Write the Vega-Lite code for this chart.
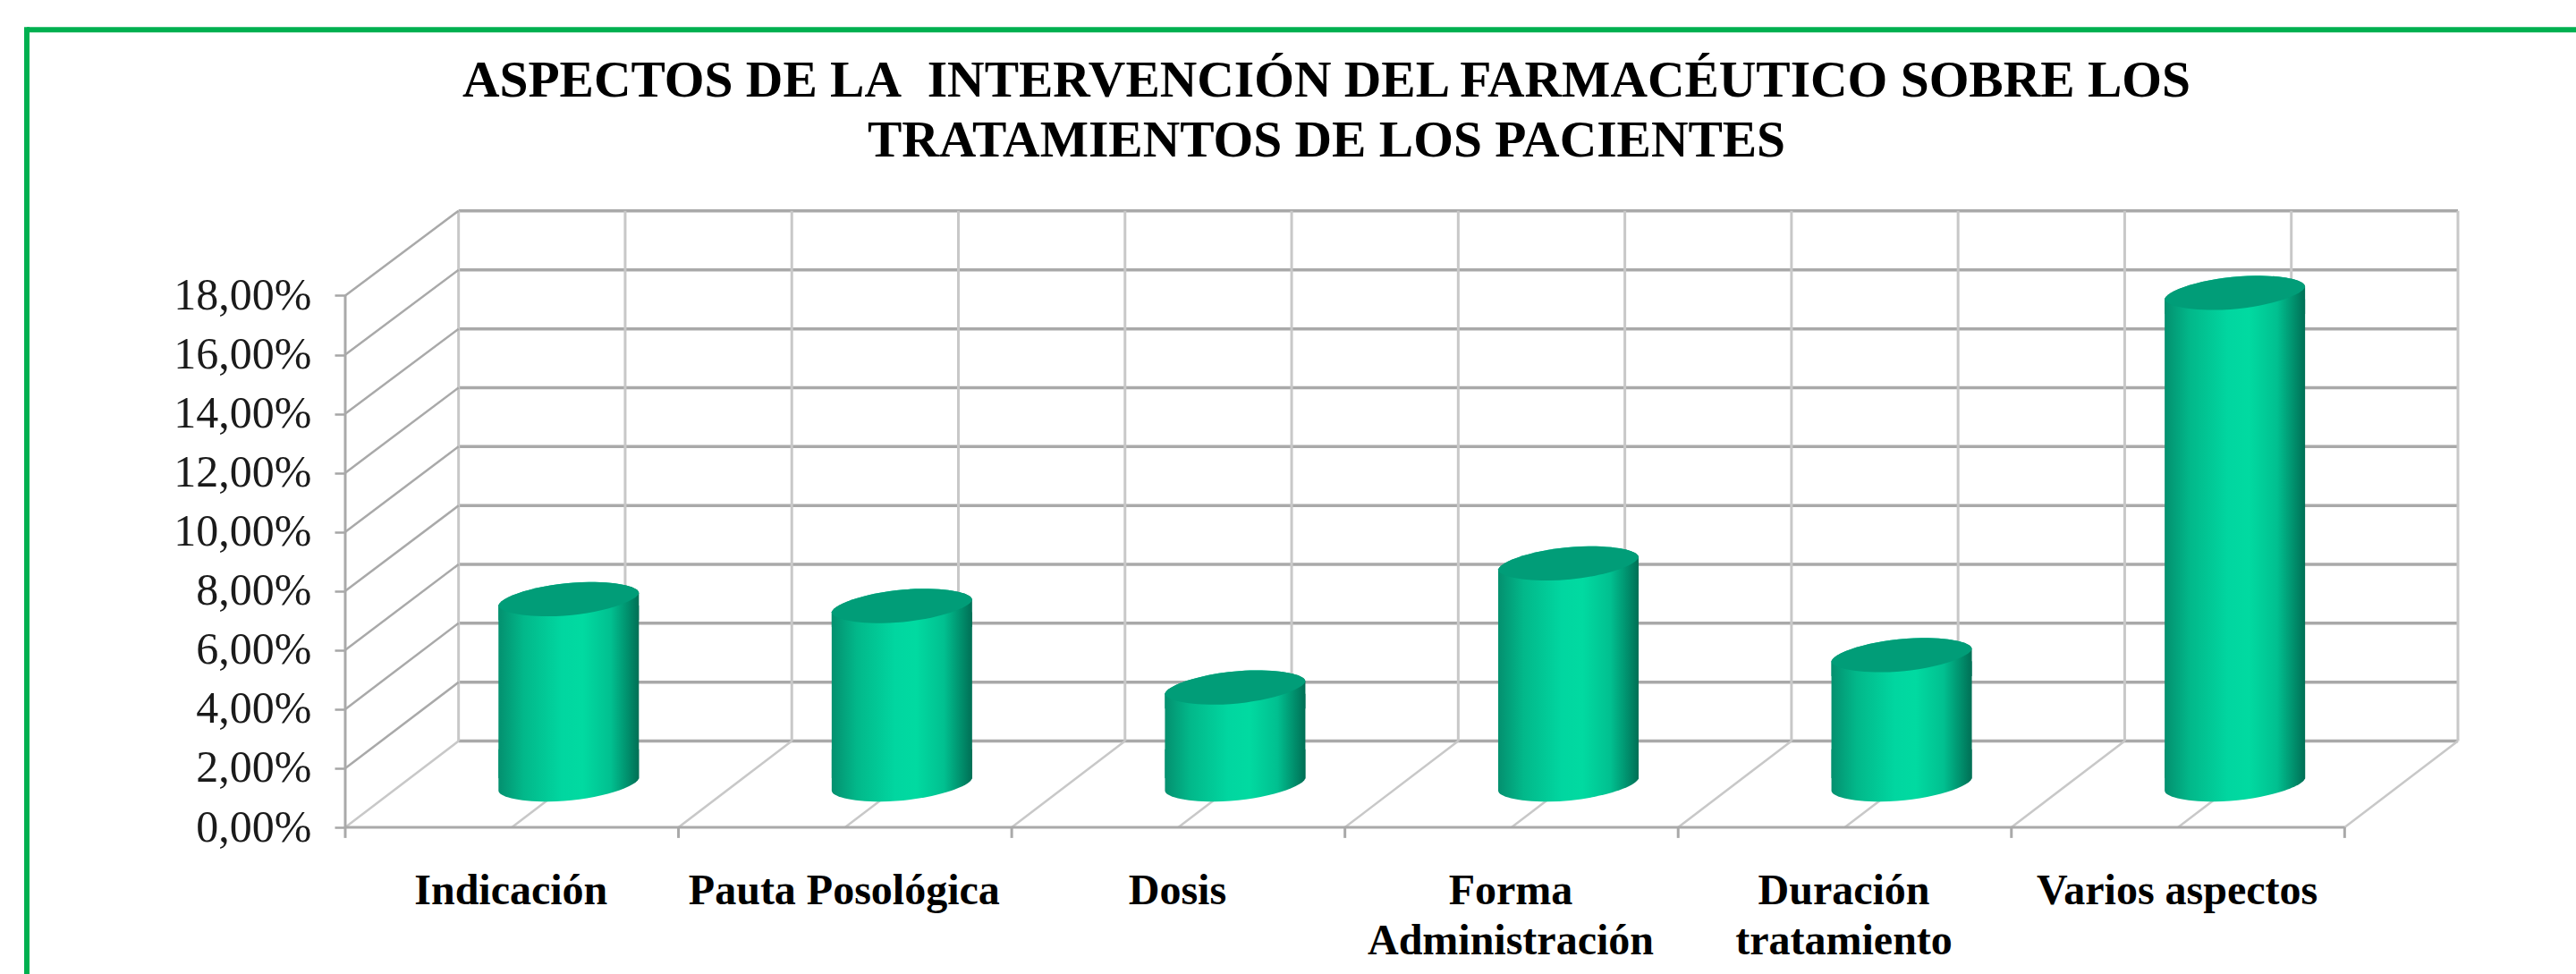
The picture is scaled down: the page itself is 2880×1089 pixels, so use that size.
{
"$schema":"https://vega.github.io/schema/vega-lite/v6.json",
"width":2362,"height":690,
"autosize":{"type":"none"},
"padding":{"left":386,"top":235,"right":132,"bottom":164},
"background":"white",
"view":{"stroke":null},
"title":{"text":["ASPECTOS DE LA\u00a0 INTERVENCIÓN DEL FARMACÉUTICO SOBRE LOS","TRATAMIENTOS DE LOS PACIENTES"],"font":"Liberation Serif","fontWeight":"bold","fontSize":57.5,"lineHeight":67,"color":"#000000","anchor":"middle","frame":"group","dx":-84,"offset":-160},
"datasets":{
"lineas":[
{"tipo":"horizontal","x0":0.34,"x1":6.34,"y0":2.92,"y1":2.92},
{"tipo":"horizontal","x0":0.34,"x1":6.34,"y0":4.91,"y1":4.91},
{"tipo":"horizontal","x0":0.34,"x1":6.34,"y0":6.91,"y1":6.91},
{"tipo":"horizontal","x0":0.34,"x1":6.34,"y0":8.9,"y1":8.9},
{"tipo":"horizontal","x0":0.34,"x1":6.34,"y0":10.89,"y1":10.89},
{"tipo":"horizontal","x0":0.34,"x1":6.34,"y0":12.89,"y1":12.89},
{"tipo":"horizontal","x0":0.34,"x1":6.34,"y0":14.88,"y1":14.88},
{"tipo":"horizontal","x0":0.34,"x1":6.34,"y0":16.87,"y1":16.87},
{"tipo":"horizontal","x0":0.34,"x1":6.34,"y0":18.87,"y1":18.87},
{"tipo":"horizontal","x0":0.34,"x1":6.34,"y0":20.87,"y1":20.87},
{"tipo":"vertical","x0":0.34,"x1":0.34,"y0":2.92,"y1":20.87},
{"tipo":"vertical","x0":0.84,"x1":0.84,"y0":2.92,"y1":20.87},
{"tipo":"vertical","x0":1.34,"x1":1.34,"y0":2.92,"y1":20.87},
{"tipo":"vertical","x0":1.84,"x1":1.84,"y0":2.92,"y1":20.87},
{"tipo":"vertical","x0":2.34,"x1":2.34,"y0":2.92,"y1":20.87},
{"tipo":"vertical","x0":2.84,"x1":2.84,"y0":2.92,"y1":20.87},
{"tipo":"vertical","x0":3.34,"x1":3.34,"y0":2.92,"y1":20.87},
{"tipo":"vertical","x0":3.84,"x1":3.84,"y0":2.92,"y1":20.87},
{"tipo":"vertical","x0":4.34,"x1":4.34,"y0":2.92,"y1":20.87},
{"tipo":"vertical","x0":4.84,"x1":4.84,"y0":2.92,"y1":20.87},
{"tipo":"vertical","x0":5.34,"x1":5.34,"y0":2.92,"y1":20.87},
{"tipo":"vertical","x0":5.84,"x1":5.84,"y0":2.92,"y1":20.87},
{"tipo":"vertical","x0":6.34,"x1":6.34,"y0":2.92,"y1":20.87},
{"tipo":"pared","x0":0,"x1":0.34,"y0":2,"y1":4.91},
{"tipo":"pared","x0":0,"x1":0.34,"y0":4,"y1":6.91},
{"tipo":"pared","x0":0,"x1":0.34,"y0":6,"y1":8.9},
{"tipo":"pared","x0":0,"x1":0.34,"y0":8,"y1":10.89},
{"tipo":"pared","x0":0,"x1":0.34,"y0":10,"y1":12.89},
{"tipo":"pared","x0":0,"x1":0.34,"y0":12,"y1":14.88},
{"tipo":"pared","x0":0,"x1":0.34,"y0":14,"y1":16.87},
{"tipo":"pared","x0":0,"x1":0.34,"y0":16,"y1":18.87},
{"tipo":"pared","x0":0,"x1":0.34,"y0":18,"y1":20.87},
{"tipo":"piso","x0":0,"x1":0.34,"y0":0,"y1":2.92},
{"tipo":"piso","x0":0.5,"x1":0.84,"y0":0,"y1":2.92},
{"tipo":"piso","x0":1,"x1":1.34,"y0":0,"y1":2.92},
{"tipo":"piso","x0":1.5,"x1":1.84,"y0":0,"y1":2.92},
{"tipo":"piso","x0":2,"x1":2.34,"y0":0,"y1":2.92},
{"tipo":"piso","x0":2.5,"x1":2.84,"y0":0,"y1":2.92},
{"tipo":"piso","x0":3,"x1":3.34,"y0":0,"y1":2.92},
{"tipo":"piso","x0":3.5,"x1":3.84,"y0":0,"y1":2.92},
{"tipo":"piso","x0":4,"x1":4.34,"y0":0,"y1":2.92},
{"tipo":"piso","x0":4.5,"x1":4.84,"y0":0,"y1":2.92},
{"tipo":"piso","x0":5,"x1":5.34,"y0":0,"y1":2.92},
{"tipo":"piso","x0":5.5,"x1":5.84,"y0":0,"y1":2.92},
{"tipo":"piso","x0":6,"x1":6.34,"y0":0,"y1":2.92},
{"tipo":"eje","x0":0,"x1":6,"y0":0,"y1":0},
{"tipo":"eje","x0":0,"x1":0,"y0":0,"y1":18},
{"tipo":"eje","x0":0,"x1":0,"y0":0,"y1":-0.36},
{"tipo":"eje","x0":1,"x1":1,"y0":0,"y1":-0.36},
{"tipo":"eje","x0":2,"x1":2,"y0":0,"y1":-0.36},
{"tipo":"eje","x0":3,"x1":3,"y0":0,"y1":-0.36},
{"tipo":"eje","x0":4,"x1":4,"y0":0,"y1":-0.36},
{"tipo":"eje","x0":5,"x1":5,"y0":0,"y1":-0.36},
{"tipo":"eje","x0":6,"x1":6,"y0":0,"y1":-0.36},
{"tipo":"marco","x0":-0.9556,"x1":6.7,"y0":27.0,"y1":27.0},
{"tipo":"marco","x0":-0.9556,"x1":-0.9556,"y0":27.09,"y1":-5.0}
],
"aspectos":[
{"categoria":"Indicación","valor":6.27},
{"categoria":"Pauta Posológica","valor":6.04},
{"categoria":"Dosis","valor":3.28},
{"categoria":"Forma Administración","valor":7.48},
{"categoria":"Duración tratamiento","valor":4.38},
{"categoria":"Varios aspectos","valor":16.64}
]},
"resolve":{"scale":{"x":"independent"},"axis":{"x":"independent"}},
"layer":[
{"data":{"name":"lineas"},
 "mark":{"type":"rule"},
 "encoding":{
  "x":{"field":"x0","type":"quantitative","scale":{"domain":[0,6.34],"nice":false,"zero":false},"axis":null},
  "x2":{"field":"x1"},
  "y":{"field":"y0","type":"quantitative","scale":{"domain":[0,20.89],"nice":false,"zero":false},
   "axis":{"title":null,"values":[0,2,4,6,8,10,12,14,16,18],"labelExpr":"replace(format(datum.value,'.2f'),'.',',')+'%'","domain":false,"grid":false,"tickSize":12,"tickWidth":2.5,"tickColor":"#a6a6a6","labelFont":"Liberation Serif","labelFontSize":50,"labelColor":"#1a1a1a","labelPadding":26,"labelOverlap":false,"labelFlush":false,"labelBound":false}},
  "y2":{"field":"y1"},
  "color":{"field":"tipo","type":"nominal","legend":null,"scale":{"domain":["horizontal","vertical","pared","piso","eje","marco"],"range":["#a9a9a9","#c8c8c8","#a9a9a9","#c8c8c8","#a9a9a9","#00b050"]}},
  "strokeWidth":{"field":"tipo","type":"nominal","legend":null,"scale":{"type":"ordinal","domain":["horizontal","vertical","pared","piso","eje","marco"],"range":[3.5,3,2.5,2.5,3,6]}}
 }},
{"data":{"name":"aspectos"},
 "encoding":{
  "x":{"field":"categoria","type":"nominal","sort":null,"scale":{"type":"band","range":[0,2235.4],"paddingInner":0,"paddingOuter":0},
   "axis":{"title":null,"orient":"bottom","labelAngle":0,"labelAlign":"center","labelBaseline":"alphabetic","domain":false,"ticks":false,"grid":false,"labelFont":"Liberation Serif","labelFontWeight":"bold","labelFontSize":48,"labelColor":"#000000","labelLineHeight":56,"labelPadding":85,"labelOffset":-1,"labelLimit":1000,"labelOverlap":false,"labelExpr":"length(datum.label)>16 ? split(datum.label,' ') : datum.label"}}
 },
 "layer":[
  {"mark":{"type":"bar","width":157,"xOffset":63.5,"yOffset":-41,"y2Offset":-55,"color":{"gradient":"linear","x1":0,"x2":1,"y1":0,"y2":0,"stops":[{"offset":0,"color":"#04906f"},{"offset":0.18,"color":"#02b88a"},{"offset":0.45,"color":"#01d6a0"},{"offset":0.6,"color":"#01daa1"},{"offset":0.8,"color":"#01c090"},{"offset":1,"color":"#006f55"}]}},
   "encoding":{"y":{"field":"valor","type":"quantitative","stack":null},"y2":{"datum":0}}},
  {"mark":{"type":"point","filled":true,"opacity":1,"size":24649,"xOffset":63.5,"yOffset":-48,"shape":"M-1,-0.5 L1,-0.5 L1,-0.085 C0.95,0.06 0.3,0.244 -0.29,0.244 C-0.75,0.244 -1,0.17 -1,0.085 Z","color":{"gradient":"linear","x1":0,"x2":1,"y1":0,"y2":0,"stops":[{"offset":0,"color":"#04906f"},{"offset":0.18,"color":"#02b88a"},{"offset":0.45,"color":"#01d6a0"},{"offset":0.6,"color":"#01daa1"},{"offset":0.8,"color":"#01c090"},{"offset":1,"color":"#006f55"}]}},
   "encoding":{"y":{"datum":0,"type":"quantitative"}}},
  {"mark":{"type":"point","filled":true,"opacity":1,"size":24649,"xOffset":63.5,"yOffset":-48,"shape":"M-1,0.085 C-0.95,-0.06 -0.3,-0.244 0.29,-0.244 C0.75,-0.244 1,-0.17 1,-0.085 L1,0.3 L-1,0.3 Z","color":{"gradient":"linear","x1":0,"x2":1,"y1":0,"y2":0,"stops":[{"offset":0,"color":"#04906f"},{"offset":0.18,"color":"#02b88a"},{"offset":0.45,"color":"#01d6a0"},{"offset":0.6,"color":"#01daa1"},{"offset":0.8,"color":"#01c090"},{"offset":1,"color":"#006f55"}]}},
   "encoding":{"y":{"field":"valor","type":"quantitative"}}},
  {"mark":{"type":"point","filled":true,"opacity":1,"size":24649,"xOffset":63.5,"yOffset":-48,"color":"#019d78","shape":"M-1,0.085 C-0.95,-0.06 -0.3,-0.244 0.29,-0.244 C0.75,-0.244 1,-0.17 1,-0.085 C0.95,0.06 0.3,0.244 -0.29,0.244 C-0.75,0.244 -1,0.17 -1,0.085 Z"},
   "encoding":{"y":{"field":"valor","type":"quantitative"}}}
 ]}
]
}
